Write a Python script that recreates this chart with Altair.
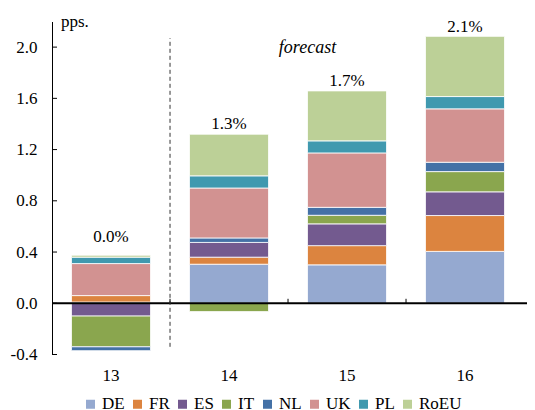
import altair as alt
import pandas as pd

years = ["13", "14", "15", "16"]
countries = ["DE", "FR", "ES", "IT", "NL", "UK", "PL", "RoEU"]
colors = ["#95A9D0", "#DC843F", "#735A8F", "#8AA64E", "#4471A6", "#D29291", "#4099AF", "#BCD097"]

DE = [0.01, 0.305, 0.30, 0.405]
FR = [0.05, 0.055, 0.15, 0.28]
ES = [-0.10, 0.115, 0.17, 0.185]
IT = [-0.24, -0.065, 0.067, 0.158]
NL = [-0.03, 0.035, 0.062, 0.073]
UK = [0.25, 0.39, 0.425, 0.417]
PL = [0.05, 0.095, 0.094, 0.096]
RoEU = [0.015, 0.325, 0.39, 0.47]

growth_labels = ["0.0%", "1.3%", "1.7%", "2.1%"]
growth_label_y = [0.477, 1.36, 1.695, 2.117]

y_ticks = [-0.4, 0.0, 0.4, 0.8, 1.2, 1.6, 2.0]
divider_range = [-0.34, 2.07]
boundary_years = ["13", "14", "15"]

series = {"DE": DE, "FR": FR, "ES": ES, "IT": IT, "NL": NL, "UK": UK, "PL": PL, "RoEU": RoEU}
rows = []
for i, c in enumerate(countries):
    for y, v in zip(years, series[c]):
        rows.append({"year": y, "country": c, "value": v, "idx": i})
df = pd.DataFrame(rows)

FONT = "Liberation Serif"
W, H = 472, 333
GAP_HALF = 19.5

xscale = alt.Scale(domain=years, paddingInner=0.33, paddingOuter=0.165)
yscale = alt.Scale(domain=[-0.4, 2.2], nice=False, zero=False)

bars = alt.Chart(df).mark_bar(stroke="white", strokeWidth=0.8).encode(
    x=alt.X("year:N", sort=years, scale=xscale, title=None,
            axis=alt.Axis(domain=False, ticks=False, tickSize=0, labelPadding=13,
                          labelFont=FONT, labelFontSize=17, labelColor="black", labelAngle=0)),
    y=alt.Y("value:Q", stack="zero", scale=yscale, title=None,
            axis=alt.Axis(values=y_ticks, grid=False, ticks=False, tickSize=0, domain=True,
                          domainColor="black", domainWidth=1, labelPadding=15,
                          labelFont=FONT, labelFontSize=17, labelColor="black",
                          labelExpr="datum.value < 0 ? '-' + format(-datum.value, '.1f') : format(datum.value, '.1f')")),
    color=alt.Color("country:N", sort=countries,
                    scale=alt.Scale(domain=countries, range=colors),
                    legend=alt.Legend(title=None, orient="none", legendX=30, legendY=374,
                                      direction="horizontal", symbolType="square", symbolSize=81,
                                      symbolStrokeWidth=0, labelFont=FONT, labelFontSize=17,
                                      labelColor="black", labelOffset=3, columnPadding=4,
                                      padding=0)),
    order=alt.Order("idx:Q"),
)

zero_df = pd.DataFrame({"v": [0.0]})
zero_line = alt.Chart(zero_df).mark_rule(color="black", strokeWidth=2).encode(
    y=alt.Y("v:Q", scale=yscale),
    x=alt.value(0), x2=alt.value(W + 3),
)

ytick_df = pd.DataFrame({"v": y_ticks})
yticks = alt.Chart(ytick_df).mark_rule(color="black", strokeWidth=1).encode(
    y=alt.Y("v:Q", scale=yscale), x=alt.value(0), x2=alt.value(5),
)

xtick_df = pd.DataFrame({"year": boundary_years, "y0": [0.0] * 3, "y1": [0.035] * 3})
xticks = alt.Chart(xtick_df).mark_rule(color="black", strokeWidth=1, xOffset=GAP_HALF).encode(
    x=alt.X("year:N", sort=years, scale=xscale, bandPosition=1),
    y=alt.Y("y0:Q", scale=yscale), y2="y1:Q",
)

div_df = pd.DataFrame({"year": ["13"], "y0": [divider_range[0]], "y1": [divider_range[1]]})
divider = alt.Chart(div_df).mark_rule(color="#333333", strokeWidth=1, strokeDash=[4, 3],
                                      xOffset=GAP_HALF).encode(
    x=alt.X("year:N", sort=years, scale=xscale, bandPosition=1),
    y=alt.Y("y0:Q", scale=yscale), y2="y1:Q",
)

lab_df = pd.DataFrame({"year": years, "label": growth_labels, "y": growth_label_y})
labels = alt.Chart(lab_df).mark_text(font=FONT, fontSize=17, color="black",
                                     baseline="alphabetic", align="center").encode(
    x=alt.X("year:N", sort=years, scale=xscale),
    y=alt.Y("y:Q", scale=yscale),
    text="label:N",
)

pps = alt.Chart(pd.DataFrame({"t": ["pps."], "y": [2.16]})).mark_text(
    font=FONT, fontSize=17, color="black", align="left", baseline="alphabetic").encode(
    x=alt.value(9), y=alt.Y("y:Q", scale=yscale), text="t:N")

forecast = alt.Chart(pd.DataFrame({"t": ["forecast"], "y": [1.957]})).mark_text(
    font=FONT, fontSize=18, fontStyle="italic", color="black", align="center",
    baseline="alphabetic").encode(
    x=alt.value(255.5), y=alt.Y("y:Q", scale=yscale), text="t:N")

chart = alt.layer(bars, zero_line, yticks, xticks, divider, labels, pps, forecast).properties(
    width=W, height=H,
    autosize=alt.AutoSizeParams(type="none"),
    padding={"left": 44, "top": 13.5, "right": 3, "bottom": 55},
).configure_view(strokeWidth=0)

chart.save("out.html", embed_options={"renderer": "svg", "actions": False})
